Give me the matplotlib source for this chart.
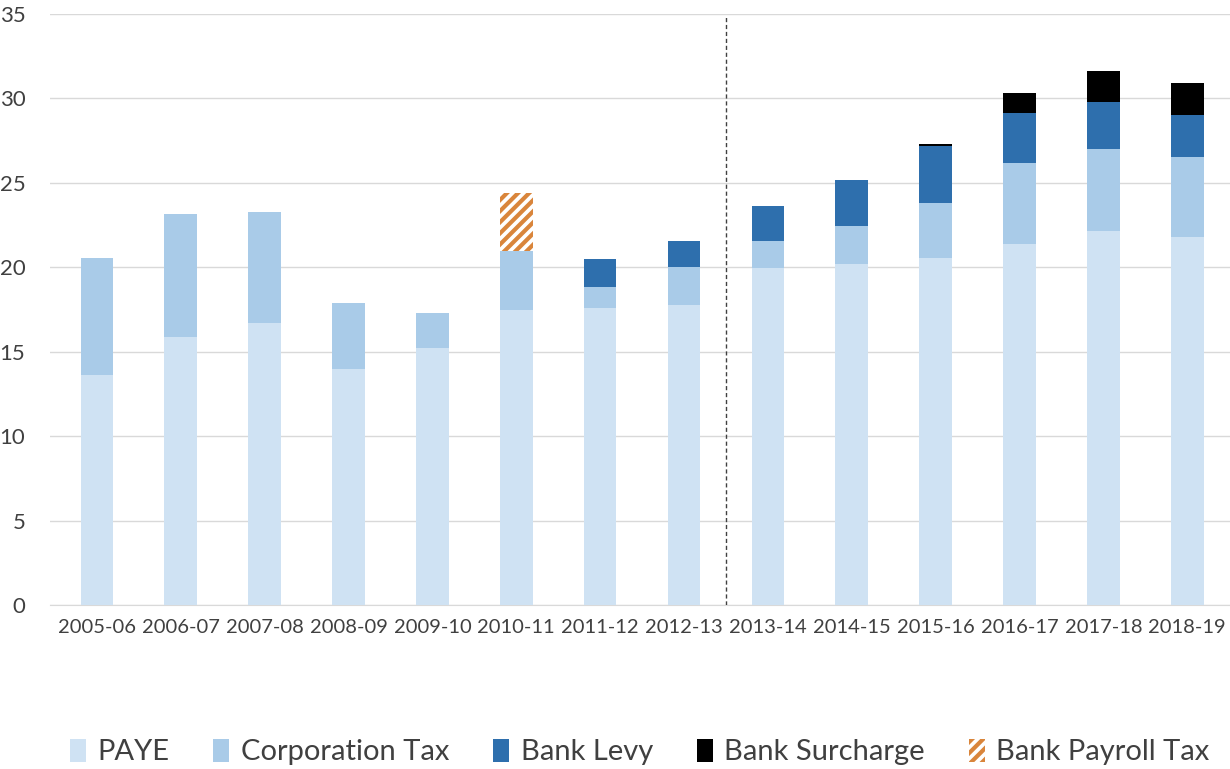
import matplotlib
matplotlib.use("Agg")
import matplotlib.pyplot as plt
import numpy as np
from matplotlib.patches import Patch

plt.rcParams['font.family'] = ['Lato', 'DejaVu Sans']
plt.rcParams['hatch.linewidth'] = 3.0

years = ["2005-06", "2006-07", "2007-08", "2008-09", "2009-10", "2010-11", "2011-12",
         "2012-13", "2013-14", "2014-15", "2015-16", "2016-17", "2017-18", "2018-19"]
paye = [13.6, 15.9, 16.7, 14.0, 15.2, 17.5, 17.6, 17.75, 19.95, 20.2, 20.55, 21.4, 22.15, 21.8]
corp_tax = [6.95, 7.25, 6.6, 3.9, 2.1, 3.45, 1.25, 2.25, 1.6, 2.25, 3.25, 4.8, 4.85, 4.7]
bank_levy = [0, 0, 0, 0, 0, 0, 1.65, 1.55, 2.1, 2.7, 3.4, 2.95, 2.8, 2.5]
bank_surcharge = [0, 0, 0, 0, 0, 0, 0, 0, 0, 0, 0.1, 1.15, 1.8, 1.9]
bank_payroll = [0, 0, 0, 0, 0, 3.45, 0, 0, 0, 0, 0, 0, 0, 0]

c_paye = "#cfe2f3"
c_ct = "#a9cbe8"
c_levy = "#2e6fad"
c_sur = "#000000"
c_pay = "#d9853b"

fig = plt.figure(figsize=(12.3, 7.69), dpi=100)
ax = fig.add_axes([0.041, 0.213, 0.959, 0.769])

x = np.arange(len(years))
w = 0.39
b = np.zeros(len(years))
ax.bar(x, paye, w, bottom=b, color=c_paye, zorder=3)
b += paye
ax.bar(x, corp_tax, w, bottom=b, color=c_ct, zorder=3)
b += corp_tax
ax.bar(x, bank_levy, w, bottom=b, color=c_levy, zorder=3)
b += bank_levy
ax.bar(x, bank_surcharge, w, bottom=b, color=c_sur, zorder=3)
b += bank_surcharge
ax.bar(x, bank_payroll, w, bottom=b, color="white", edgecolor=c_pay, hatch="///",
       linewidth=0, zorder=3)

ax.axvline(7.5, ymax=0.995, color="#404040", linestyle=(0, (3, 2)), linewidth=1, zorder=4)

ax.set_ylim(0, 35)
ax.set_xlim(-0.554, 13.51)
ax.set_yticks(range(0, 36, 5))
ax.set_xticks(x)
ax.set_xticklabels(years, fontsize=14.5, color="#404040")
ax.tick_params(axis='y', labelsize=16, colors="#404040", length=0, pad=18)
ax.tick_params(axis='x', length=0, pad=10)
ax.grid(axis='y', color="#d9d9d9", linewidth=1, zorder=0)
for s in ["left", "right", "top"]:
    ax.spines[s].set_visible(False)
ax.spines["bottom"].set_color("#d9d9d9")

handles = [Patch(facecolor=c_paye, label="PAYE"),
           Patch(facecolor=c_ct, label="Corporation Tax"),
           Patch(facecolor=c_levy, label="Bank Levy"),
           Patch(facecolor=c_sur, label="Bank Surcharge"),
           Patch(facecolor="white", edgecolor=c_pay, hatch="///", linewidth=0, label="Bank Payroll Tax")]
fig.legend(handles=handles, loc="center", bbox_to_anchor=(0.52, 0.022), ncol=5, frameon=False,
           fontsize=21, handlelength=0.55, handleheight=0.85, handletextpad=0.4, columnspacing=1.5,
           labelcolor="#404040")

fig.savefig("out.png", dpi=100)
